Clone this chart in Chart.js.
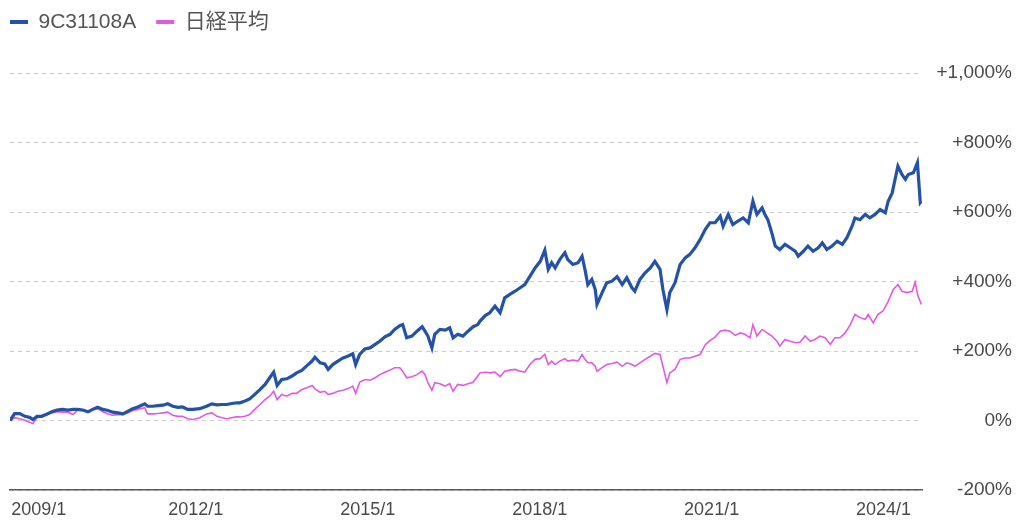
<!DOCTYPE html>
<html>
<head>
<meta charset="utf-8">
<script src="https://cdn.jsdelivr.net/npm/chart.js@4.4.1/dist/chart.umd.min.js"></script>
<style>
html,body{margin:0;padding:0;background:#ffffff;}
#wrap{width:1024px;height:523px;}
</style>
</head>
<body>
<div id="wrap"><canvas id="chart" width="1024" height="523"></canvas></div>
<script>
// ---------------- DATA ----------------
const seriesNames = ['9C31108A', '日経平均'];

// dates as decimal years, shared by both series up to early 2021
const commonDates = [
  2008.76, 2008.84, 2008.93, 2009.02, 2009.10, 2009.16, 2009.23, 2009.31, 2009.40, 2009.49,
  2009.58, 2009.68, 2009.77, 2009.86, 2009.94, 2010.03, 2010.12, 2010.20, 2010.29, 2010.38,
  2010.47, 2010.55, 2010.64, 2010.73, 2010.82, 2010.90, 2010.99, 2011.11, 2011.16, 2011.25,
  2011.34, 2011.43, 2011.51, 2011.60, 2011.69, 2011.77, 2011.86, 2011.95, 2012.07, 2012.19,
  2012.28, 2012.37, 2012.46, 2012.54, 2012.63, 2012.72,
  2012.77, 2012.86, 2012.94, 2013.03, 2013.12, 2013.21, 2013.29, 2013.36, 2013.42, 2013.50,
  2013.59, 2013.68, 2013.76, 2013.85, 2013.94, 2014.03, 2014.08, 2014.17, 2014.25, 2014.31,
  2014.39, 2014.48, 2014.57, 2014.65, 2014.74, 2014.79, 2014.86, 2014.95, 2015.04, 2015.13,
  2015.21, 2015.30, 2015.39, 2015.47, 2015.56, 2015.61, 2015.68, 2015.77, 2015.86, 2015.95,
  2016.00, 2016.05, 2016.12, 2016.17, 2016.26, 2016.35, 2016.43, 2016.49, 2016.57, 2016.66,
  2016.75, 2016.84, 2016.92,
  2016.96, 2017.05, 2017.13, 2017.22, 2017.31, 2017.39, 2017.48, 2017.57, 2017.66, 2017.74,
  2017.83, 2017.92, 2018.01, 2018.09, 2018.15, 2018.21, 2018.27, 2018.35, 2018.44, 2018.49,
  2018.58, 2018.67, 2018.74, 2018.79, 2018.84, 2018.91, 2018.97, 2019.00, 2019.09, 2019.17,
  2019.26, 2019.35, 2019.44, 2019.52, 2019.61, 2019.66, 2019.75, 2019.84, 2019.93, 2020.01,
  2020.10, 2020.15, 2020.22, 2020.27, 2020.36, 2020.45, 2020.54, 2020.62, 2020.71, 2020.80,
  2020.89, 2020.97, 2021.06
];

const fundCommonValues = [
  0, 20, 20, 12, 9, 3, 12, 12, 18, 25,
  30, 32, 30, 32, 32, 30, 25, 32, 38, 32,
  29, 24, 22, 19, 27, 34, 39, 48, 41, 41,
  43, 44, 48, 41, 38, 39, 32, 32, 34, 41,
  48, 45, 46, 46, 49, 51,
  51, 56, 62, 75, 89, 104, 123, 139, 101, 118,
  120, 128, 137, 144, 158, 171, 182, 166, 163, 147,
  161, 171, 180, 185, 192, 161, 190, 206, 209, 219,
  228, 241, 248, 262, 273, 276, 238, 243, 257, 270,
  257, 243, 209, 248, 262, 260, 267, 238, 248, 243,
  257, 270, 276,
  286, 302, 310, 329, 310, 353, 363, 372, 382, 391,
  415, 439, 458, 490, 435, 454, 439, 463, 483, 463,
  449, 454, 473, 435, 391, 406, 377, 334, 368, 396,
  401, 414, 391, 411, 382, 372, 406, 425, 439, 458,
  435, 377, 319, 368, 396, 449, 468, 478, 497, 521,
  550, 569, 569
];

const nikkeiCommonValues = [
  0, 8, 5, 1, -5, -9, 8, 11, 17, 22,
  25, 24, 24, 17, 30, 30, 24, 30, 34, 25,
  19, 15, 17, 17, 22, 29, 32, 37, 19, 19,
  20, 22, 24, 15, 12, 12, 5, 3, 8, 19,
  22, 12, 8, 5, 8, 11,
  10, 12, 17, 32, 46, 60, 70, 84, 60, 75,
  70, 78, 78, 89, 94, 101, 91, 81, 84, 75,
  78, 84, 87, 91, 99, 78, 110, 118, 116, 123,
  132, 139, 145, 152, 152, 142, 123, 126, 132, 142,
  132, 109, 87, 109, 106, 99, 106, 84, 104, 101,
  106, 110, 128,
  137, 139, 137, 139, 126, 142, 145, 147, 142, 139,
  161, 176, 178, 190, 161, 171, 161, 171, 178, 171,
  174, 171, 190, 176, 166, 166, 156, 142, 152, 161,
  164, 168, 156, 166, 161, 156, 166, 176, 185, 193,
  190, 156, 109, 137, 147, 176, 180, 180, 185, 190,
  218, 230, 240
];

const fundTailDates = [
  2021.15, 2021.20, 2021.29, 2021.37, 2021.46, 2021.55, 2021.64, 2021.72, 2021.79, 2021.88,
  2021.93, 2021.98, 2022.05, 2022.11, 2022.19, 2022.28, 2022.37, 2022.46, 2022.51, 2022.60,
  2022.68, 2022.77, 2022.86, 2022.93, 2023.01, 2023.10, 2023.19, 2023.28, 2023.36, 2023.45,
  2023.50, 2023.59, 2023.68, 2023.76, 2023.85, 2023.94, 2024.03, 2024.08, 2024.15, 2024.20,
  2024.25, 2024.32, 2024.38, 2024.43, 2024.52, 2024.59, 2024.64, 2024.66
];
const fundTailValues = [
  588, 559, 593, 564, 574, 583, 569, 631, 593, 612,
  593, 578, 540, 502, 492, 507, 497, 487, 473, 487,
  502, 487, 497, 511, 492, 502, 516, 507, 526, 559,
  583, 578, 593, 583, 593, 607, 598, 631, 655, 694,
  732, 708, 694, 708, 713, 742, 627, 631
];

const nikkeiTailDates = [
  2021.15, 2021.23, 2021.32, 2021.41, 2021.50, 2021.58, 2021.67, 2021.72, 2021.79, 2021.88,
  2021.97, 2022.05, 2022.14, 2022.19, 2022.28, 2022.37, 2022.46, 2022.54, 2022.63, 2022.72,
  2022.80, 2022.89, 2022.98, 2023.07, 2023.15, 2023.24, 2023.33, 2023.42, 2023.50, 2023.59,
  2023.68, 2023.73, 2023.82, 2023.90, 2023.99, 2024.08, 2024.17, 2024.25, 2024.32, 2024.41,
  2024.50, 2024.55, 2024.60, 2024.66
];
const nikkeiTailValues = [
  257, 260, 257, 245, 252, 248, 238, 276, 243, 262,
  252, 243, 228, 214, 233, 228, 224, 225, 243, 228,
  233, 243, 238, 219, 238, 238, 252, 276, 305, 296,
  291, 305, 281, 305, 315, 343, 377, 391, 372, 368,
  372, 398, 358, 334
];

const tickYears = [2009, 2012, 2015, 2018, 2021, 2024];
const tickLabels = ['2009/1', '2012/1', '2015/1', '2018/1', '2021/1', '2024/1'];
const yTicks = [-200, 0, 200, 400, 600, 800, 1000];

// ---------------- CHART ----------------
const FONT = '"Liberation Sans", Arial, "Noto Sans CJK JP", sans-serif';
const toPoints = (dates, values) => dates.map((d, i) => ({ x: d, y: values[i] }));
const fundPoints = toPoints(commonDates.concat(fundTailDates), fundCommonValues.concat(fundTailValues));
const nikkeiPoints = toPoints(commonDates.concat(nikkeiTailDates), nikkeiCommonValues.concat(nikkeiTailValues));

const legendLayout = {
  id: 'legendLayout',
  afterInit(chart) {
    const lg = chart.legend;
    if (!lg) return;
    const fit = lg.fit, draw = lg.draw;
    lg.fit = function () { fit.call(this); this.height = 73; };
    lg.draw = function () {
      const l = this.left, t = this.top;
      this.left = l - 20; this.top = t - 8.5;
      draw.call(this);
      this.left = l; this.top = t;
    };
  }
};

new Chart(document.getElementById('chart'), {
  type: 'line',
  data: {
    datasets: [
      {
        label: seriesNames[0],
        data: fundPoints,
        borderColor: '#2352a8',
        backgroundColor: '#2352a8',
        borderWidth: 3.2,
        pointRadius: 0,
        tension: 0
      },
      {
        label: seriesNames[1],
        data: nikkeiPoints,
        borderColor: '#e05ae3',
        backgroundColor: '#e05ae3',
        borderWidth: 1.6,
        pointRadius: 0,
        tension: 0
      }
    ]
  },
  options: {
    responsive: false,
    animation: false,
    events: [],
    layout: { padding: { top: 0, left: 10, right: 12, bottom: 5 } },
    plugins: {
      tooltip: { enabled: false },
      legend: {
        align: 'start',
        labels: {
          boxWidth: 18,
          boxHeight: 4,
          padding: 20,
          color: '#555555',
          font: { family: FONT, size: 21 },
          generateLabels(chart) {
            return Chart.defaults.plugins.legend.labels.generateLabels(chart)
              .map(l => Object.assign(l, { lineWidth: 0 }));
          }
        }
      }
    },
    scales: {
      x: {
        type: 'linear',
        min: 2008.76,
        max: 2024.67,
        afterBuildTicks(axis) { axis.ticks = tickYears.map(v => ({ value: v })); },
        afterFit(scale) { scale.paddingLeft = 0; scale.paddingRight = 0; scale.height = 28; },
        ticks: {
          autoSkip: false,
          maxRotation: 0,
          padding: 9,
          color: '#4a4a4a',
          font: { family: FONT, size: 18 },
          callback(value) {
            const i = tickYears.indexOf(value);
            const txt = i >= 0 ? tickLabels[i] : '';
            return i === 0 ? '      ' + txt : txt;
          }
        },
        grid: { display: false, drawTicks: false },
        border: { display: true, color: '#5a5a5a', width: 1.5 }
      },
      y: {
        position: 'right',
        min: -200,
        max: 1000,
        afterBuildTicks(axis) { axis.ticks = yTicks.map(v => ({ value: v })); },
        afterFit(scale) { scale.width = 90; },
        ticks: {
          crossAlign: 'far',
          padding: 14.5,
          color: '#4a4a4a',
          font: { family: FONT, size: 19 },
          callback(value) {
            return value > 0 ? '+' + value.toLocaleString('en-US') + '%' : value + '%';
          }
        },
        grid: { color: '#cccccc', lineWidth: 1, drawTicks: false },
        border: { display: false, dash: [4, 4] }
      }
    }
  },
  plugins: [legendLayout]
});
</script>
</body>
</html>
